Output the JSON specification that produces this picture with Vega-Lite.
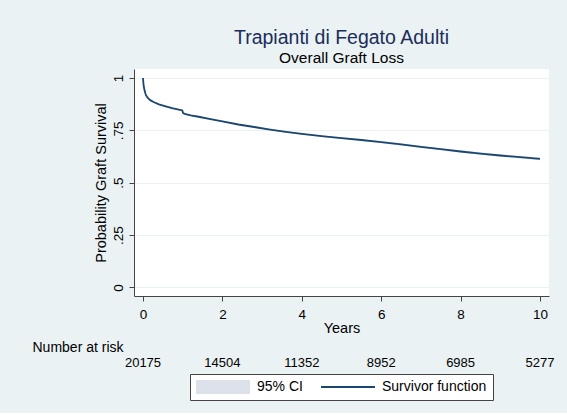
{
  "$schema": "https://vega.github.io/schema/vega-lite/v6.json",
  "background": "#eaf2f3",
  "autosize": {"type": "pad"},
  "padding": {"left": 32, "top": 28, "right": 14, "bottom": 12},
  "config": {
    "font": "Liberation Sans",
    "view": {"stroke": null},
    "axis": {
      "domainColor": "#444444",
      "tickColor": "#444444",
      "labelColor": "#000000",
      "titleColor": "#000000",
      "labelFontSize": 13.5,
      "titleFontSize": 14.5,
      "titleFontWeight": "normal",
      "tickSize": 5,
      "labelFlush": false
    },
    "legend": {
      "orient": "bottom",
      "direction": "horizontal",
      "strokeColor": "#444444",
      "fillColor": "white",
      "padding": 6,
      "offset": 4,
      "labelFontSize": 14,
      "labelColor": "#000000",
      "symbolType": "M-540,0H540",
      "symbolSize": 0.01,
      "symbolOffset": 20,
      "labelOffset": 27,
      "columnPadding": 18,
      "clipHeight": 14,
      "layout": {"bottom": {"anchor": "middle"}}
    }
  },
  "spacing": 6,
  "resolve": {"scale": {"x": "shared", "color": "shared", "strokeWidth": "shared"}, "legend": {"color": "shared", "strokeWidth": "shared"}},
  "vconcat": [
    {
      "width": 415,
      "height": 227,
      "view": {"fill": "white", "stroke": null},
      "title": {
        "text": "Trapianti di Fegato Adulti",
        "subtitle": "Overall Graft Loss",
        "anchor": "middle",
        "frame": "group",
        "fontSize": 19.5,
        "fontWeight": "normal",
        "color": "#1c2d5a",
        "subtitleFontSize": 15.5,
        "subtitleColor": "#000000",
        "subtitlePadding": 2,
        "offset": 2
      },
      "data": {
        "values": [
          {"t": 0, "s": 1.000, "lo": 1.000, "hi": 1.000},
          {"t": 0.01, "s": 0.975, "lo": 0.973, "hi": 0.977},
          {"t": 0.02, "s": 0.958, "lo": 0.955, "hi": 0.961},
          {"t": 0.04, "s": 0.940, "lo": 0.937, "hi": 0.943},
          {"t": 0.06, "s": 0.926, "lo": 0.923, "hi": 0.929},
          {"t": 0.08, "s": 0.916, "lo": 0.913, "hi": 0.919},
          {"t": 0.12, "s": 0.905, "lo": 0.902, "hi": 0.908},
          {"t": 0.19, "s": 0.893, "lo": 0.890, "hi": 0.896},
          {"t": 0.28, "s": 0.884, "lo": 0.881, "hi": 0.887},
          {"t": 0.40, "s": 0.874, "lo": 0.871, "hi": 0.877},
          {"t": 0.55, "s": 0.866, "lo": 0.863, "hi": 0.869},
          {"t": 0.73, "s": 0.856, "lo": 0.853, "hi": 0.859},
          {"t": 0.90, "s": 0.849, "lo": 0.846, "hi": 0.852},
          {"t": 0.99, "s": 0.845, "lo": 0.842, "hi": 0.848},
          {"t": 1.01, "s": 0.832, "lo": 0.829, "hi": 0.835},
          {"t": 1.05, "s": 0.829, "lo": 0.826, "hi": 0.832},
          {"t": 1.2, "s": 0.822, "lo": 0.819, "hi": 0.825},
          {"t": 1.4, "s": 0.815, "lo": 0.812, "hi": 0.818},
          {"t": 1.7, "s": 0.804, "lo": 0.801, "hi": 0.807},
          {"t": 2.0, "s": 0.793, "lo": 0.790, "hi": 0.796},
          {"t": 2.4, "s": 0.778, "lo": 0.775, "hi": 0.781},
          {"t": 2.8, "s": 0.766, "lo": 0.762, "hi": 0.770},
          {"t": 3.2, "s": 0.754, "lo": 0.750, "hi": 0.758},
          {"t": 3.6, "s": 0.743, "lo": 0.739, "hi": 0.747},
          {"t": 4.0, "s": 0.733, "lo": 0.729, "hi": 0.737},
          {"t": 4.5, "s": 0.722, "lo": 0.718, "hi": 0.726},
          {"t": 5.0, "s": 0.713, "lo": 0.709, "hi": 0.717},
          {"t": 5.5, "s": 0.704, "lo": 0.700, "hi": 0.708},
          {"t": 6.0, "s": 0.694, "lo": 0.689, "hi": 0.699},
          {"t": 6.5, "s": 0.683, "lo": 0.678, "hi": 0.688},
          {"t": 7.0, "s": 0.671, "lo": 0.666, "hi": 0.676},
          {"t": 7.5, "s": 0.660, "lo": 0.655, "hi": 0.665},
          {"t": 8.0, "s": 0.649, "lo": 0.643, "hi": 0.655},
          {"t": 8.5, "s": 0.639, "lo": 0.633, "hi": 0.645},
          {"t": 9.0, "s": 0.630, "lo": 0.624, "hi": 0.636},
          {"t": 9.5, "s": 0.622, "lo": 0.616, "hi": 0.628},
          {"t": 10.0, "s": 0.614, "lo": 0.607, "hi": 0.621}
        ]
      },
      "encoding": {
        "x": {
          "field": "t",
          "type": "quantitative",
          "scale": {"domain": [-0.227, 10.227], "nice": false, "zero": false},
          "axis": {
            "values": [0, 2, 4, 6, 8, 10],
            "title": "Years",
            "grid": false,
            "labelPadding": 6,
            "titlePadding": 1
          }
        }
      },
      "layer": [
        {
          "mark": {"type": "area", "opacity": 1},
          "encoding": {
            "y": {
              "field": "lo",
              "type": "quantitative",
              "scale": {"domain": [-0.041, 1.043], "nice": false, "zero": false},
              "axis": {
                "values": [0, 0.25, 0.5, 0.75, 1],
                "labelExpr": "replace(toString(datum.value), '0.', '.')",
                "labelAngle": 270,
                "title": "Probability Graft Survival",
                "grid": true,
                "gridColor": "#eaf2f3",
                "gridWidth": 1,
                "labelPadding": 4,
                "titlePadding": 3
              }
            },
            "y2": {"field": "hi"},
            "color": {
              "datum": "95% CI",
              "type": "nominal",
              "scale": {"domain": ["95% CI", "Survivor function"], "range": ["#dde1e9", "#1a476f"]},
              "legend": {"title": null}
            },
            "strokeWidth": {
              "datum": "95% CI",
              "type": "nominal",
              "scale": {"domain": ["95% CI", "Survivor function"], "range": [13.8, 1.8]},
              "legend": {"title": null}
            }
          }
        },
        {
          "mark": {"type": "line"},
          "encoding": {
            "y": {"field": "s", "type": "quantitative"},
            "color": {"datum": "Survivor function", "type": "nominal"},
            "strokeWidth": {"datum": "Survivor function", "type": "nominal"}
          }
        }
      ]
    },
    {
      "width": 415,
      "height": 14,
      "view": {"fill": null, "stroke": null},
      "title": {
        "text": "Number at risk",
        "anchor": "start",
        "frame": "group",
        "dx": -101.5,
        "fontSize": 14,
        "fontWeight": "normal",
        "color": "#000000",
        "baseline": "alphabetic",
        "offset": -10
      },
      "data": {
        "values": [
          {"year": 0, "n": 20175},
          {"year": 2, "n": 14504},
          {"year": 4, "n": 11352},
          {"year": 6, "n": 8952},
          {"year": 8, "n": 6985},
          {"year": 10, "n": 5277}
        ]
      },
      "mark": {"type": "text", "fontSize": 13, "color": "#000000"},
      "encoding": {
        "x": {
          "field": "year",
          "type": "quantitative",
          "scale": {"domain": [-0.227, 10.227], "nice": false, "zero": false},
          "axis": null
        },
        "text": {"field": "n", "type": "quantitative", "format": "d"}
      }
    }
  ]
}
